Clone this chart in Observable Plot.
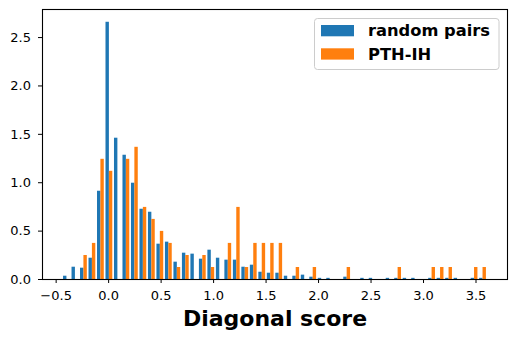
<!DOCTYPE html>
<html>
<head>
<meta charset="utf-8">
<script src="https://cdn.jsdelivr.net/npm/d3@7"></script>
<script src="https://cdn.jsdelivr.net/npm/@observablehq/plot@0.6"></script>
<style>
  body { margin: 0; background: white; }
  #wrap { position: relative; width: 516px; height: 341px; }
  #legend { position: absolute; left: 0; top: 0; pointer-events: none; }
</style>
</head>
<body>
<div id="wrap"></div>
<script>
// Histogram: 50 equal-width bins
const binStart = -0.4377;
const binWidth = 0.0809;
const seriesNames = ["random pairs", "PTH-IH"];
const seriesColors = ["#1f77b4", "#ff7f0e"];
const randomPairs = [
  0.034, 0.127, 0.117, 0.220, 0.912, 2.658, 1.460, 1.284, 0.995, 0.726,
  0.695, 0.365, 0.386, 0.179, 0.272, 0.262, 0.210, 0.303, 0.220, 0.200,
  0.200, 0.127, 0.148, 0.075, 0.065, 0.065, 0.034, 0.034, 0.045, 0.024,
  0.012, 0.012, 0, 0.024, 0, 0.012, 0.012, 0, 0.012, 0.012,
  0.012, 0.012, 0, 0.012, 0.012, 0.012, 0.012, 0, 0.012, 0.012
];
const pthIH = [
  0, 0, 0.248, 0.373, 1.242, 1.118, 0, 1.242, 1.366, 0.745,
  0.621, 0.497, 0.373, 0.124, 0.248, 0, 0.248, 0.124, 0, 0.373,
  0.745, 0.124, 0.373, 0.373, 0.373, 0.373, 0, 0.124, 0, 0.124,
  0, 0, 0, 0.124, 0, 0, 0, 0, 0, 0.124,
  0, 0, 0, 0.124, 0.124, 0.124, 0, 0, 0.124, 0.124
];
const xTicks = [-0.5, 0, 0.5, 1, 1.5, 2, 2.5, 3, 3.5];
const yTicks = [0, 0.5, 1, 1.5, 2, 2.5];
const xLabel = "Diagonal score";

const rows = [];
[randomPairs, pthIH].forEach((arr, k) =>
  arr.forEach((v, i) => rows.push({series: seriesNames[k], k, i, v}))
);
const fmt = d => (d < 0 ? "\u2212" : "") + Math.abs(d).toFixed(1);

const chart = Plot.plot({
  width: 516, height: 341,
  marginLeft: 42, marginRight: 9, marginTop: 9, marginBottom: 62,
  x: {domain: [-0.63, 3.80]},
  y: {domain: [0, 2.79]},
  color: {domain: seriesNames, range: seriesColors},
  style: {fontFamily: "DejaVu Sans", fontSize: "13px", background: "white", color: "black"},
  marks: [
    Plot.rectY(rows, {
      x1: d => binStart + (d.i + 0.1 + 0.4 * d.k) * binWidth,
      x2: d => binStart + (d.i + 0.5 + 0.4 * d.k) * binWidth,
      y1: 0, y2: "v", fill: "series", inset: 0
    }),
    Plot.axisX({ticks: xTicks, tickFormat: fmt, tickSize: 4, tickPadding: 7, label: null, fontSize: 13}),
    Plot.axisY({ticks: yTicks, tickFormat: fmt, tickSize: 4, tickPadding: 7.5, label: null, fontSize: 13}),
    Plot.text([xLabel], {text: d => d, frameAnchor: "bottom", dy: 46, fontSize: 22, fontWeight: "bold"}),
    Plot.frame({stroke: "black", strokeWidth: 1.1})
  ]
});
const wrap = document.getElementById("wrap");
wrap.appendChild(chart);

// Legend overlay (upper right, inside axes)
const svg = d3.select(wrap).append("svg")
  .attr("id", "legend").attr("width", 516).attr("height", 341)
  .style("font-family", "DejaVu Sans");
svg.append("rect").attr("x", 314.5).attr("y", 18.5).attr("width", 184.5).attr("height", 51)
  .attr("rx", 3).attr("fill", "white").attr("fill-opacity", 0.8)
  .attr("stroke", "#cccccc").attr("stroke-width", 1);
seriesNames.forEach((name, k) => {
  const y0 = 25 + k * 23.3;
  svg.append("rect").attr("x", 321).attr("y", y0).attr("width", 33).attr("height", 11.3)
    .attr("fill", seriesColors[k]);
  svg.append("text").attr("x", 368).attr("y", y0 + 11.2)
    .attr("font-size", 16.3).attr("font-weight", "bold").attr("fill", "black").text(name);
});
</script>
</body>
</html>
